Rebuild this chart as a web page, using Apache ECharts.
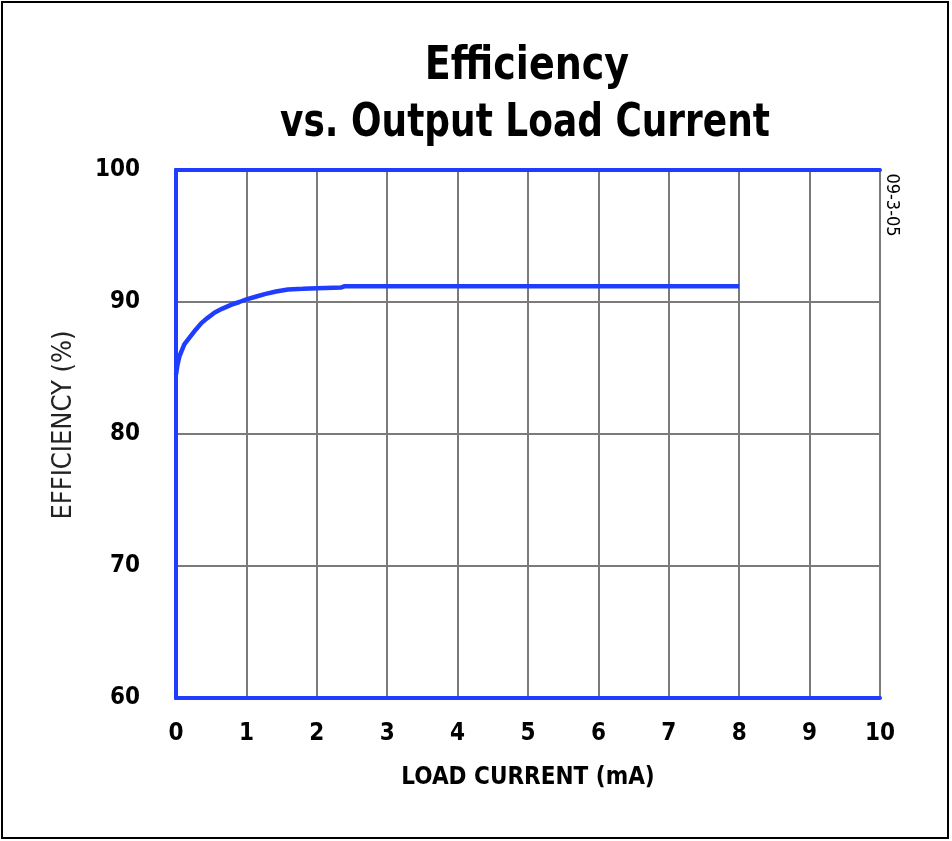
<!DOCTYPE html>
<html>
<head>
<meta charset="utf-8">
<script src="https://cdn.jsdelivr.net/npm/echarts@6/dist/echarts.min.js"></script>
<style>
html,body{margin:0;padding:0;background:#fff;}
#chart{width:952px;height:841px;}
</style>
</head>
<body>
<div id="chart"></div>
<script>
const loadCurrent = [0, 0.02, 0.05, 0.08, 0.12, 0.2, 0.28, 0.36, 0.45, 0.55, 0.66, 0.79, 0.9, 1.0, 1.13, 1.26, 1.42, 1.59, 1.8, 2.0, 2.35, 2.4, 3, 4, 5, 6, 7, 8];
const efficiency  = [84.5, 85.2, 85.9, 86.3, 86.8, 87.35, 87.9, 88.4, 88.8, 89.2, 89.5, 89.8, 90.0, 90.2, 90.4, 90.6, 90.8, 90.95, 91.0, 91.05, 91.1, 91.2, 91.2, 91.2, 91.2, 91.2, 91.2, 91.2];
const xTicks = [0,1,2,3,4,5,6,7,8,9,10];
const yTicks = [60,70,80,90,100];
const titleLines = ['Efficiency', 'vs. Output Load Current'];
const xName = 'LOAD CURRENT (mA)';
const yName = 'EFFICIENCY (%)';
const sideNote = '09-3-05';

const boldFont = '"DejaVu Sans Condensed", "Liberation Sans Narrow", Arial, sans-serif';
const blue = '#1f3dff';
const chart = echarts.init(document.getElementById('chart'));
const points = loadCurrent.map((x, i) => [x, efficiency[i]]);

const frameAxisX = { type: 'value', min: 0, max: 10, interval: 1, axisLine: { show: true, lineStyle: { color: blue, width: 4 } },
  axisTick: { show: false }, axisLabel: { show: false }, splitLine: { show: false } };
const frameAxisY = { type: 'value', min: 60, max: 100, interval: 10, axisLine: { show: true, lineStyle: { color: blue, width: 4 } },
  axisTick: { show: false }, axisLabel: { show: false }, splitLine: { show: false } };

chart.setOption({
  animation: false,
  backgroundColor: '#ffffff',
  grid: { left: 176, right: 72, top: 170, bottom: 143 },
  xAxis: [{
    type: 'value', min: 0, max: 10, interval: 1, position: 'bottom',
    name: xName, nameLocation: 'middle', nameGap: 68,
    nameTextStyle: { fontFamily: boldFont, fontWeight: 'bold', fontSize: 24, color: '#000' },
    axisLine: { show: true, lineStyle: { color: blue, width: 4 } }, axisTick: { show: false },
    axisLabel: { margin: 24, fontFamily: boldFont, fontWeight: 'bold', fontSize: 24, color: '#000',
      formatter: v => xTicks.includes(v) ? String(v) : '' },
    splitLine: { show: true, lineStyle: { color: '#7a7a7a', width: 2 } }
  }, Object.assign({ position: 'top' }, frameAxisX)],
  yAxis: [{
    type: 'value', min: 60, max: 100, interval: 10, position: 'left',
    axisLine: { show: true, lineStyle: { color: blue, width: 4 } }, axisTick: { show: false },
    axisLabel: { margin: 36, fontFamily: boldFont, fontWeight: 'bold', fontSize: 24, color: '#000',
      formatter: v => yTicks.includes(v) ? String(v) : '' },
    splitLine: { show: true, lineStyle: { color: '#7a7a7a', width: 2 } }
  }, Object.assign({ position: 'right' }, frameAxisY)],
  series: [{
    type: 'line', data: points, showSymbol: false, smooth: false,
    lineStyle: { color: blue, width: 4.5 }, z: 5
  }],
  graphic: [
    { type: 'rect', shape: { x: 2, y: 2, width: 946, height: 836 }, style: { fill: 'none', stroke: '#000', lineWidth: 2 }, silent: true },
    { type: 'text', x: 527, y: 67, scaleX: 0.9,
      style: { text: titleLines[0], fontSize: 47, fontWeight: 'bold', fontFamily: boldFont, fill: '#000', textAlign: 'center', textVerticalAlign: 'middle' } },
    { type: 'text', x: 525, y: 124, scaleX: 0.85,
      style: { text: titleLines[1], fontSize: 47, fontWeight: 'bold', fontFamily: boldFont, fill: '#000', textAlign: 'center', textVerticalAlign: 'middle' } },
    { type: 'text', x: 64, y: 425, rotation: Math.PI / 2,
      style: { text: yName, fontSize: 27, fontFamily: '"DejaVu Sans Condensed", sans-serif', fill: '#222', textAlign: 'center', textVerticalAlign: 'middle' } },
    { type: 'text', x: 892, y: 205, rotation: -Math.PI / 2,
      style: { text: sideNote, fontSize: 18, fontFamily: boldFont, fill: '#000', textAlign: 'center', textVerticalAlign: 'middle' } }
  ]
});
</script>
</body>
</html>
